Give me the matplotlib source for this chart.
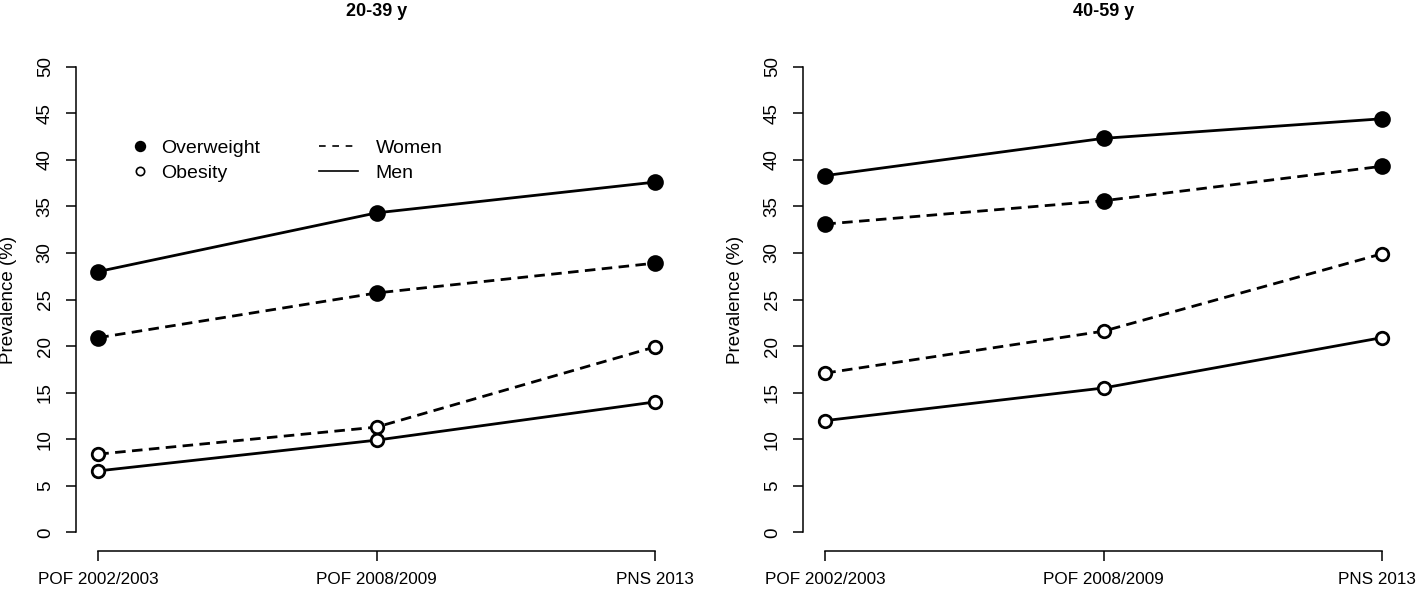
import matplotlib
matplotlib.use("Agg")
import matplotlib.pyplot as plt
import matplotlib.transforms as mtransforms
from matplotlib.lines import Line2D

plt.rcParams['font.family'] = ['Liberation Sans', 'DejaVu Sans']

surveys = ["POF 2002/2003", "POF 2008/2009", "PNS 2013"]
panels = ["20-39 y", "40-59 y"]

# prevalence (%) per panel
ow_men = [[28.0, 34.3, 37.6], [38.3, 42.3, 44.4]]
ow_women = [[20.9, 25.7, 28.9], [33.1, 35.6, 39.3]]
ob_women = [[8.4, 11.3, 19.9], [17.1, 21.6, 29.9]]
ob_men = [[6.6, 9.9, 14.0], [12.0, 15.5, 20.9]]

x = [1, 2, 3]
LW = 2.0

fig = plt.figure(figsize=(14.18, 5.90), dpi=100)
lefts = [76 / 1418, 803 / 1418]

for i, title in enumerate(panels):
    ax = fig.add_axes([lefts[i], 1 - 551 / 590, 601 / 1418, 503 / 590])

    def draw(vals, filled, dashed):
        ax.plot(x, vals, color='black', lw=LW,
                linestyle=(0, (3.8, 2.3)) if dashed else '-',
                marker='o', markersize=10 if filled else 9,
                markerfacecolor='black' if filled else 'white',
                markeredgecolor='black', markeredgewidth=2, zorder=3)

    draw(ow_men[i], True, False)
    draw(ow_women[i], True, True)
    draw(ob_women[i], False, True)
    draw(ob_men[i], False, False)

    ax.set_xlim(1 - 0.08, 3 + 0.08)
    ax.set_ylim(-2, 52)
    for s in ['top', 'right']:
        ax.spines[s].set_visible(False)
    ax.spines['left'].set_bounds(0, 50)
    ax.spines['bottom'].set_bounds(1, 3)
    for s in ['left', 'bottom']:
        ax.spines[s].set_linewidth(1.1)

    ax.set_xticks(x)
    ax.set_xticklabels(surveys, fontsize=12.3)
    ax.set_yticks(range(0, 51, 5))
    ax.set_yticklabels([str(v) for v in range(0, 51, 5)], rotation=90,
                       va='center', fontsize=13.5)
    ax.tick_params(axis='x', length=7, width=1.1, pad=8)
    ax.tick_params(axis='y', length=7, width=1.1, pad=9)

    if i == 1:
        # keep the last label inside the figure edge
        lab = ax.get_xticklabels()[-1]
        lab.set_transform(lab.get_transform() +
                          mtransforms.ScaledTranslation(-5 / 100, 0, fig.dpi_scale_trans))

    ax.set_ylabel("Prevalence (%)", fontsize=13.5)
    ax.yaxis.set_label_coords(-0.098, 0.5)
    ax.set_title(title, fontsize=13, fontweight='bold', pad=23)

    if i == 0:
        h1 = [Line2D([], [], color='black', ls='none', marker='o', markersize=7,
                     markerfacecolor='black', markeredgewidth=1.2),
              Line2D([], [], color='black', ls='none', marker='o', markersize=6,
                     markerfacecolor='white', markeredgewidth=1.2)]
        leg1 = ax.legend(h1, ["Overweight", "Obesity"], frameon=False,
                         loc='upper left', bbox_to_anchor=(0.061, 0.853),
                         fontsize=14, handlelength=1.0, handletextpad=0.6,
                         labelspacing=0.38, borderpad=0.4)
        ax.add_artist(leg1)
        h2 = [Line2D([], [], color='black', lw=1.2, linestyle=(0, (4, 4))),
              Line2D([], [], color='black', lw=1.2)]
        ax.legend(h2, ["Women", "Men"], frameon=False,
                  loc='upper left', bbox_to_anchor=(0.376, 0.853),
                  fontsize=14, handlelength=2.0, handletextpad=0.9,
                  labelspacing=0.38, borderpad=0.4)

fig.savefig("out.png", dpi=100)
